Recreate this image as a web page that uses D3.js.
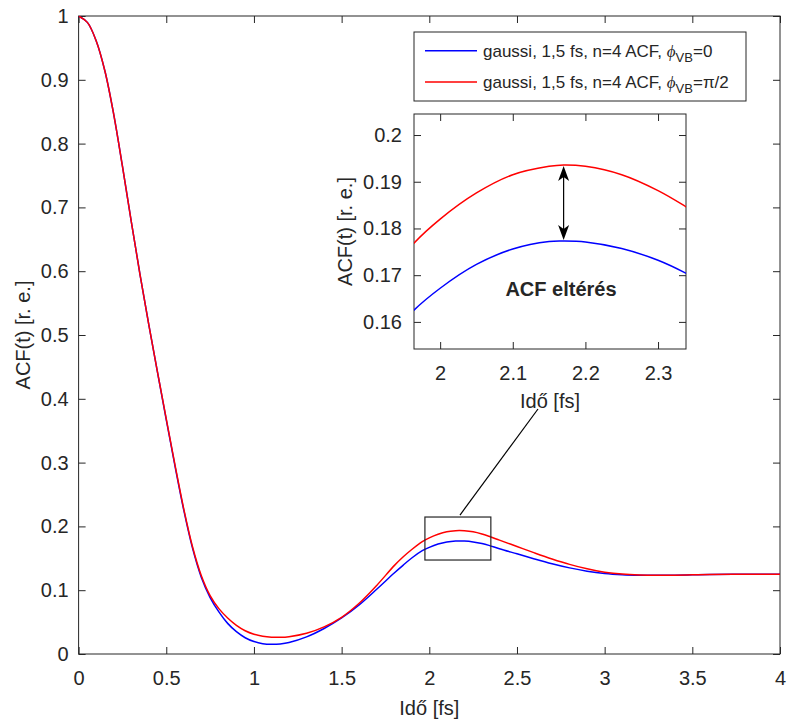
<!DOCTYPE html>
<html>
<head>
<meta charset="utf-8">
<script src="https://cdn.jsdelivr.net/npm/d3@7"></script>
<style>
  body { margin: 0; background: #fff; }
  text { font-family: "Liberation Sans", Arial, Helvetica, sans-serif; fill: #262626; }
</style>
</head>
<body>
<svg id="chart" width="787" height="720"></svg>
<script>
// Autocorrelation function of the 1,5 fs gaussian pulse (n=4), two phases
const timeFs = [0, 0.05, 0.1, 0.15, 0.2, 0.25, 0.3, 0.35, 0.4, 0.45, 0.5, 0.55, 0.6, 0.65, 0.7, 0.75,
  0.8, 0.85, 0.9, 0.95, 1.0, 1.05, 1.1, 1.15, 1.2, 1.3, 1.4, 1.5, 1.6, 1.7, 1.8, 1.85, 1.9, 1.96,
  2.0, 2.05, 2.1, 2.15, 2.17, 2.2, 2.25, 2.3, 2.34, 2.4, 2.5, 2.6, 2.7, 2.8, 2.9, 3.0, 3.1, 3.2,
  3.3, 3.4, 3.5, 3.6, 3.8, 4.0];
const acfPhi0 = [1.0, 0.99, 0.9613, 0.9138, 0.8463, 0.7646, 0.6786, 0.5951, 0.5166, 0.4415, 0.367, 0.294,
  0.225, 0.1655, 0.120, 0.0885, 0.066, 0.048, 0.035, 0.0255, 0.0195, 0.0162, 0.0152, 0.0158, 0.018, 0.0268,
  0.040, 0.0565, 0.077, 0.1015, 0.127, 0.139, 0.1505, 0.1619, 0.1672, 0.1723, 0.1756, 0.1772, 0.1773,
  0.1771, 0.1757, 0.1732, 0.1703, 0.165, 0.157, 0.149, 0.1415, 0.135, 0.1298, 0.1262, 0.1243, 0.1235,
  0.1233, 0.1236, 0.1241, 0.1246, 0.125, 0.125];
const acfPhiHalfPi = [1.0, 0.99, 0.9613, 0.9138, 0.8463, 0.7646, 0.6786, 0.5951, 0.5166, 0.4419, 0.3684, 0.2959,
  0.2271, 0.1678, 0.1228, 0.0916, 0.0711, 0.0565, 0.045, 0.0365, 0.031, 0.0278, 0.0263, 0.0262, 0.0272, 0.0325,
  0.0425, 0.0575, 0.0795, 0.1075, 0.1385, 0.152, 0.1638, 0.1762, 0.182, 0.1876, 0.1915, 0.1933, 0.1936,
  0.1933, 0.1915, 0.1881, 0.1845, 0.1785, 0.1685, 0.1585, 0.149, 0.1405, 0.1335, 0.1283, 0.1252, 0.1238,
  0.1234, 0.1236, 0.1241, 0.1246, 0.125, 0.125];

const xTicks = [0, 0.5, 1, 1.5, 2, 2.5, 3, 3.5, 4];
const yTicks = [0, 0.1, 0.2, 0.3, 0.4, 0.5, 0.6, 0.7, 0.8, 0.9, 1];
const insetXTicks = [2, 2.1, 2.2, 2.3];
const insetYTicks = [0.16, 0.17, 0.18, 0.19, 0.2];
const insetXDomain = [1.964, 2.3385];
const insetYDomain = [0.1542, 0.2045];
const zoomBoxX = [1.975, 2.351];
const zoomBoxY = [0.1473, 0.2147];
const axisTitleX = "Idő [fs]";
const axisTitleY = "ACF(t) [r. e.]";
const noteText = "ACF eltérés";
const seriesColors = ["#0000ff", "#ff0000"];
const seriesValues = [acfPhi0, acfPhiHalfPi];
const legendPhase = ["=0", "=π/2"];

const svg = d3.select("#chart");
const ink = "#262626";
const tick = 7;

const main = { left: 78.6, right: 780, top: 16, bottom: 654 };
const inset = { left: 414, right: 686, top: 114, bottom: 349 };

const x = d3.scaleLinear().domain([0, 4]).range([main.left, main.right]);
const y = d3.scaleLinear().domain([0, 1]).range([main.bottom, main.top]);
const xi = d3.scaleLinear().domain(insetXDomain).range([inset.left, inset.right]);
const yi = d3.scaleLinear().domain(insetYDomain).range([inset.bottom, inset.top]);

const points = timeFs.map((t, i) => i);

function drawFrame(box, sx, sy, xt, yt, fmt, yPad) {
  const g = svg.append("g");
  const ax = g.append("g").attr("transform", `translate(0,${box.bottom})`)
    .call(d3.axisBottom(sx).tickValues(xt).tickSize(-tick).tickPadding(17).tickFormat(fmt));
  const ay = g.append("g").attr("transform", `translate(${box.left},0)`)
    .call(d3.axisLeft(sy).tickValues(yt).tickSize(-tick).tickPadding(yPad).tickFormat(fmt));
  const at = g.append("g").attr("transform", `translate(0,${box.top})`)
    .call(d3.axisTop(sx).tickValues(xt).tickSize(-tick).tickFormat(""));
  const ar = g.append("g").attr("transform", `translate(${box.right},0)`)
    .call(d3.axisRight(sy).tickValues(yt).tickSize(-tick).tickFormat(""));
  [ax, ay, at, ar].forEach(a => {
    a.select(".domain").remove();
    a.selectAll("line").attr("stroke", ink).attr("stroke-width", 1);
    a.selectAll("text").attr("font-size", 20).attr("fill", ink)
      .style("font-family", '"Liberation Sans", Arial, sans-serif');
  });
  g.append("rect")
    .attr("x", box.left).attr("y", box.top)
    .attr("width", box.right - box.left).attr("height", box.bottom - box.top)
    .attr("fill", "none").attr("stroke", ink).attr("stroke-width", 1);
  return g;
}

const fmt = d => String(+d.toFixed(3));

// main axes
drawFrame(main, x, y, xTicks, yTicks, fmt, 10);

svg.append("defs").append("clipPath").attr("id", "mainClip")
  .append("rect").attr("x", main.left).attr("y", main.top)
  .attr("width", main.right - main.left).attr("height", main.bottom - main.top);
svg.select("defs").append("clipPath").attr("id", "insetClip")
  .append("rect").attr("x", inset.left).attr("y", inset.top)
  .attr("width", inset.right - inset.left).attr("height", inset.bottom - inset.top);

function lineFor(sx, sy, vals) {
  return d3.line().curve(d3.curveCatmullRom.alpha(0.5))
    .x(i => sx(timeFs[i])).y(i => sy(vals[i]))(points);
}

const curves = svg.append("g").attr("clip-path", "url(#mainClip)");
seriesValues.forEach((vals, k) => {
  curves.append("path").attr("d", lineFor(x, y, vals))
    .attr("fill", "none").attr("stroke", seriesColors[k]).attr("stroke-width", 1.5);
});

// axis titles
svg.append("text").attr("x", (main.left + main.right) / 2).attr("y", 715)
  .attr("text-anchor", "middle").attr("font-size", 20).text(axisTitleX);
svg.append("text").attr("transform", `translate(30,${(main.top + main.bottom) / 2}) rotate(-90)`)
  .attr("text-anchor", "middle").attr("font-size", 20).text(axisTitleY);

// zoom rectangle and connector
svg.append("rect")
  .attr("x", x(zoomBoxX[0])).attr("y", y(zoomBoxY[1]))
  .attr("width", x(zoomBoxX[1]) - x(zoomBoxX[0])).attr("height", y(zoomBoxY[0]) - y(zoomBoxY[1]))
  .attr("fill", "none").attr("stroke", ink).attr("stroke-width", 1.2);
svg.append("line")
  .attr("x1", x(2.175)).attr("y1", y(zoomBoxY[1]) - 2)
  .attr("x2", 538).attr("y2", 409)
  .attr("stroke", "#000").attr("stroke-width", 1.2);

// legend
const leg = svg.append("g");
leg.append("rect").attr("x", 414).attr("y", 32).attr("width", 332).attr("height", 69)
  .attr("fill", "#fff").attr("stroke", ink).attr("stroke-width", 1);
[50.7, 82].forEach((ly, k) => {
  leg.append("line").attr("x1", 425).attr("x2", 477).attr("y1", ly).attr("y2", ly)
    .attr("stroke", seriesColors[k]).attr("stroke-width", 1.5);
  const t = leg.append("text").attr("x", 483).attr("y", ly + 6.3).attr("font-size", 17);
  t.append("tspan").text("gaussi, 1,5 fs, n=4 ACF, ");
  t.append("tspan").attr("font-style", "italic")
    .style("font-family", '"Liberation Serif", "DejaVu Serif", serif').text("ϕ");
  t.append("tspan").attr("font-size", 13).attr("dy", 5).text("VB");
  t.append("tspan").attr("dy", -5).text(legendPhase[k]);
});

// inset axes
svg.append("rect").attr("x", inset.left).attr("y", inset.top)
  .attr("width", inset.right - inset.left).attr("height", inset.bottom - inset.top)
  .attr("fill", "#fff");
drawFrame(inset, xi, yi, insetXTicks, insetYTicks, fmt, 12);
const insetCurves = svg.append("g").attr("clip-path", "url(#insetClip)");
seriesValues.forEach((vals, k) => {
  insetCurves.append("path").attr("d", lineFor(xi, yi, vals))
    .attr("fill", "none").attr("stroke", seriesColors[k]).attr("stroke-width", 1.5);
});
svg.append("text").attr("x", (inset.left + inset.right) / 2).attr("y", 408)
  .attr("text-anchor", "middle").attr("font-size", 20).text(axisTitleX);
svg.append("text").attr("transform", `translate(352,${(inset.top + inset.bottom) / 2}) rotate(-90)`)
  .attr("text-anchor", "middle").attr("font-size", 20).text(axisTitleY);

// double arrow between the two peaks
const peakIdx = timeFs.indexOf(2.17);
const ax0 = xi(timeFs[peakIdx]);
const yTop = yi(acfPhiHalfPi[peakIdx]);
const yBot = yi(acfPhi0[peakIdx]);
const head = (tipY, dir) => {
  const L = 15, W = 5.5, notch = 4;
  return `M${ax0},${tipY} L${ax0 - W},${tipY + dir * L} L${ax0},${tipY + dir * (L - notch)} L${ax0 + W},${tipY + dir * L} Z`;
};
svg.append("line").attr("x1", ax0).attr("x2", ax0).attr("y1", yTop + 8).attr("y2", yBot - 8)
  .attr("stroke", "#000").attr("stroke-width", 1.2);
svg.append("path").attr("d", head(yTop + 1, 1)).attr("fill", "#000");
svg.append("path").attr("d", head(yBot - 1, -1)).attr("fill", "#000");

svg.append("text").attr("x", 561).attr("y", 296).attr("text-anchor", "middle")
  .attr("font-size", 20).attr("font-weight", "bold").attr("fill", "#000").text(noteText);
</script>
</body>
</html>
